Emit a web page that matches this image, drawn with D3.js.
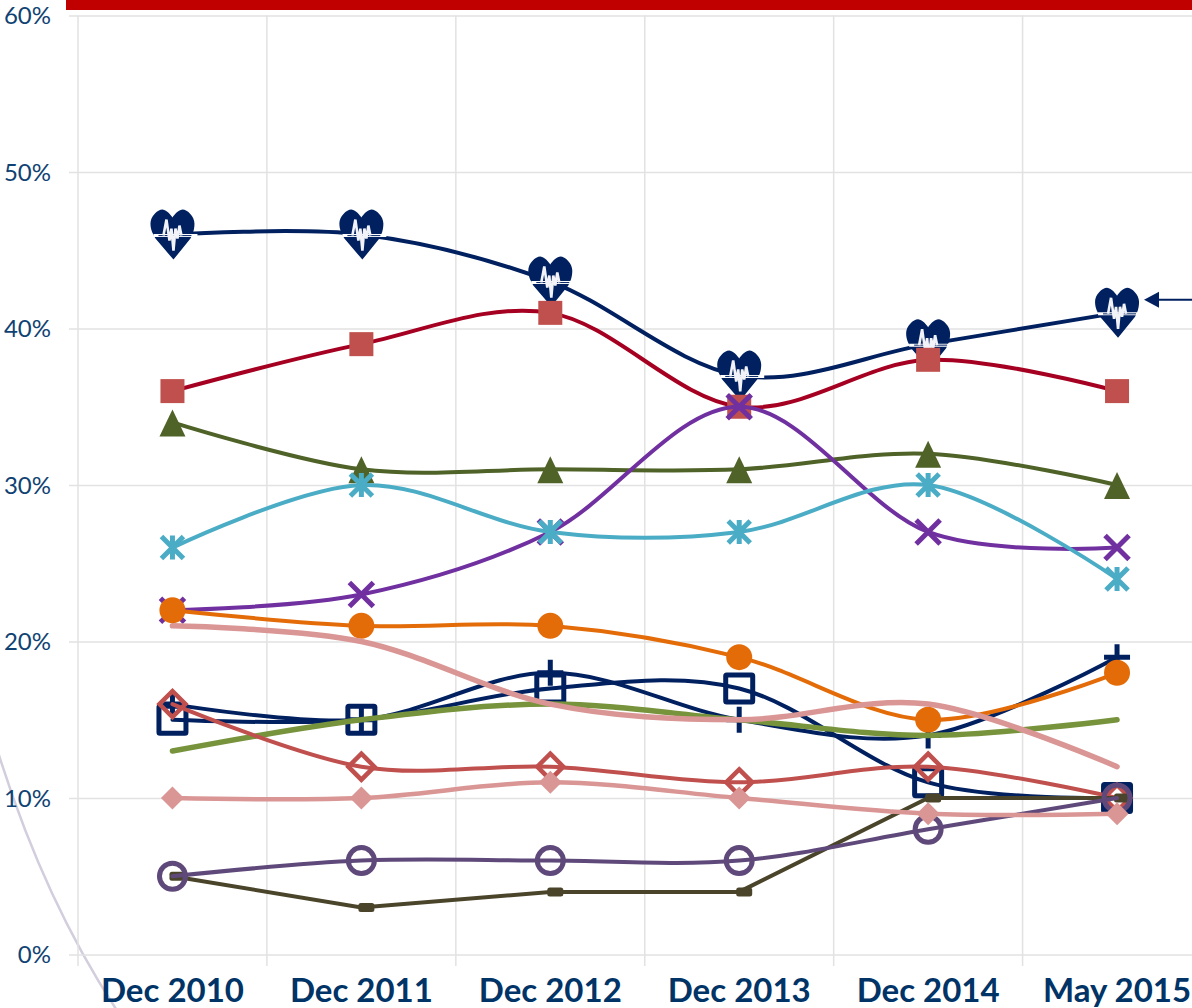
<!DOCTYPE html>
<html>
<head>
<meta charset="utf-8">
<script src="https://cdn.jsdelivr.net/npm/d3@7"></script>
<style>
html,body{margin:0;padding:0;background:#fff;overflow:hidden}
svg{display:block}
text{font-family:Lato,"Open Sans",sans-serif}
</style>
</head>
<body>
<svg id="c" width="1192" height="1008"></svg>
<script>
const categories=["Dec 2010","Dec 2011","Dec 2012","Dec 2013","Dec 2014","May 2015"];
const yTicks=[0,10,20,30,40,50,60];
const heartValues=[46,46,43,37,39,41];
const redSquareValues=[36,39,41,35,38,36];
const triangleValues=[34,31,31,31,32,30];
const asteriskValues=[26,30,27,27,30,24];
const crossValues=[22,23,27,35,27,26];
const plusValues=[16,15,18,15,14,19];
const orangeValues=[22,21,21,19,15,18];
const openSquareValues=[15,15,17,17,11,10];
const greenValues=[13,15,16,15,14,15];
const pinkValues=[21,20,16,15,16,12];
const openDiamondValues=[16,12,12,11,12,10];
const dashValues=[5,3,4,4,10,10];
const openCircleValues=[5,6,6,6,8,10];
const lightDiamondValues=[10,10,11,10,9,9];

const series=[
 {v:heartValues,line:"#002060",w:4,m:"heart"},
 {v:redSquareValues,line:"#A50021",w:4,m:"square",c:"#C0504D"},
 {v:triangleValues,line:"#4F6228",w:4,m:"triangle",c:"#4F6228"},
 {v:crossValues,line:"#7030A0",w:4,m:"cross",c:"#7030A0"},
 {v:asteriskValues,line:"#4BACC6",w:4,m:"asterisk",c:"#4BACC6"},
 {v:plusValues,line:"#002060",w:4,m:"plus",c:"#002060"},
 {v:orangeValues,line:"#E36C09",w:4,m:"circle",c:"#E36C09"},
 {v:openSquareValues,line:"#002060",w:4,m:"openSquare",c:"#002060"},
 {v:greenValues,line:"#77933C",w:5.5},
 {v:pinkValues,line:"#D99694",w:5.5},
 {v:openDiamondValues,line:"#C0504D",w:4,m:"openDiamond",c:"#C0504D"},
 {v:dashValues,line:"#4A452A",w:4,m:"dash",c:"#4A452A",straight:true,dx:5},
 {v:openCircleValues,line:"#5F497A",w:4,m:"openCircle",c:"#5F497A"},
 {v:lightDiamondValues,line:"#D99694",w:4.5,m:"diamond",c:"#D99694"}
];

const svg=d3.select("#c");
const x=d3.scaleBand().domain(categories).range([78,1211.5]);
const y=d3.scaleLinear().domain([0,60]).range([954.5,15.5]);
const cx=c=>x(c)+x.bandwidth()/2;

// decorative arc and header bar
svg.append("path").attr("d","M-2,752 Q44,900 118,1012").attr("fill","none").attr("stroke","#D2CEDD").attr("stroke-width",2.5);
svg.append("rect").attr("x",66).attr("y",0).attr("width",1126).attr("height",10).attr("fill","#C00000");

// y axis with gridlines
const gy=svg.append("g").attr("transform","translate(69,0)")
 .call(d3.axisLeft(y).tickValues(yTicks).tickSize(0).tickPadding(18).tickFormat(d=>d+"%"));
gy.select(".domain").remove();
gy.selectAll(".tick line").attr("x1",0).attr("x2",1123).attr("stroke","#E2E2E2").attr("stroke-width",1.5);
gy.selectAll("text").attr("fill","#0F4273").attr("font-size",24).attr("dy","0.34em");

// vertical gridlines at category edges
const edges=categories.map(c=>x(c));
svg.append("g").selectAll("line").data(edges).join("line")
 .attr("x1",d=>d).attr("x2",d=>d).attr("y1",15.5).attr("y2",966)
 .attr("stroke","#E2E2E2").attr("stroke-width",1.5);

// x axis labels
const gx=svg.append("g").attr("transform","translate(0,966)")
 .call(d3.axisBottom(x).tickSize(0).tickPadding(0));
gx.select(".domain").remove();
gx.selectAll("text").attr("fill","#003366").attr("font-size",33).attr("font-weight",700).attr("y",36).attr("dy",0);

const markers={
 heart(g){
  g.append("path").attr("d","M0,-17C-2,-20-5,-24-10,-25C-15,-25-22,-18-22,-11C-22,-4-19,0-17,4L1,25L18,4C20,0 22,-4 22,-11C22,-18 15,-25 10,-25C5,-24 2,-20 0,-17Z").attr("fill","#002060");
  g.append("line").attr("x1",-19).attr("x2",25).attr("y1",1).attr("y2",1).attr("stroke","#fff").attr("stroke-width",3);
  g.append("line").attr("x1",-14).attr("x2",19).attr("y1",1).attr("y2",1).attr("stroke","#002060").attr("stroke-width",1);
  g.append("polyline").attr("points","-9,1 -6,-15 -3,6 -1,-6 1,16 3,-6 5,4 7,-9 9,1").attr("fill","none").attr("stroke","#F1F3F8").attr("stroke-width",2.6);
 },
 square(g,c){g.append("rect").attr("x",-12).attr("y",-12).attr("width",24).attr("height",24).attr("fill",c);},
 triangle(g,c){g.append("path").attr("d","M0,-13L13,14L-13,14Z").attr("fill",c);},
 asterisk(g,c){g.append("path").attr("d","M-11,-11L11,11M-11,11L11,-11M0,-12L0,12").attr("stroke",c).attr("stroke-width",5).attr("fill","none");},
 cross(g,c){g.append("path").attr("d","M-12,-12L12,12M-12,12L12,-12").attr("stroke",c).attr("stroke-width",5).attr("fill","none");},
 plus(g,c){g.append("path").attr("d","M-13,0L13,0M0,-13L0,13").attr("stroke",c).attr("stroke-width",5).attr("fill","none");},
 circle(g,c){g.append("circle").attr("r",13).attr("fill",c);},
 openSquare(g,c){g.append("rect").attr("x",-13.5).attr("y",-13.5).attr("width",27).attr("height",27).attr("rx",1).attr("fill","none").attr("stroke",c).attr("stroke-width",5);},
 openDiamond(g,c){g.append("path").attr("d","M0,-13L13,0L0,13L-13,0Z").attr("fill","none").attr("stroke",c).attr("stroke-width",4.5);},
 diamond(g,c){g.append("path").attr("d","M0,-11.5L11.5,0L0,11.5L-11.5,0Z").attr("fill",c);},
 openCircle(g,c){g.append("circle").attr("r",13).attr("fill","none").attr("stroke",c).attr("stroke-width",5);},
 dash(g,c){g.append("rect").attr("x",-8).attr("y",-4.5).attr("width",16).attr("height",9).attr("rx",2.5).attr("fill",c);}
};

const smooth=d3.line().x(d=>cx(d.c)).y(d=>y(d.v)).curve(d3.curveCardinal.tension(0));
const straight=d3.line().x(d=>cx(d.c)).y(d=>y(d.v));

series.forEach(s=>{
 const pts=s.v.map((v,i)=>({c:categories[i],v}));
 const g=svg.append("g");
 g.append("path").attr("d",(s.straight?straight:smooth)(pts)).attr("fill","none")
  .attr("stroke",s.line).attr("stroke-width",s.w).attr("stroke-linecap","round");
 if(s.m){
  g.selectAll("g").data(pts).join("g")
   .attr("transform",d=>`translate(${cx(d.c)+(s.dx||0)},${y(d.v)})`)
   .each(function(){markers[s.m](d3.select(this),s.c);});
 }
});

// arrow pointing at the last heart value
const ay=y(heartValues[5])-13;
const ag=svg.append("g");
ag.append("line").attr("x1",1156).attr("x2",1192).attr("y1",ay).attr("y2",ay).attr("stroke","#002060").attr("stroke-width",2);
ag.append("path").attr("d",`M1144,${ay}L1159,${ay-8}L1159,${ay+8}Z`).attr("fill","#002060");
</script>
</body>
</html>
